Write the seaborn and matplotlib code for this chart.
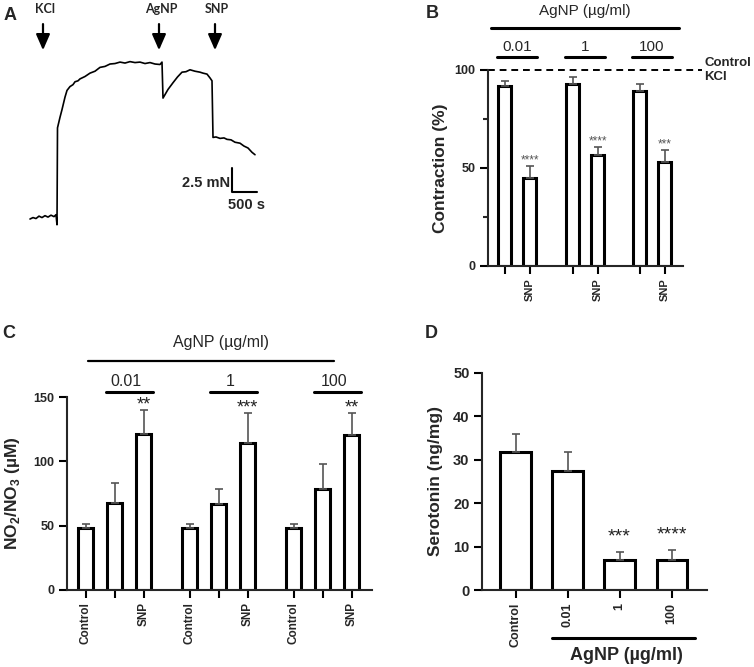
import numpy as np
import pandas as pd
import matplotlib
matplotlib.use('Agg')
import matplotlib.pyplot as plt
import seaborn as sns

sns.set_theme(style='ticks')
plt.rcParams['font.family'] = ['Liberation Sans', 'DejaVu Sans']
plt.rcParams['axes.linewidth'] = 1.5
plt.rcParams['mathtext.fontset'] = 'custom'
plt.rcParams['mathtext.rm'] = 'Liberation Sans'
plt.rcParams['mathtext.bf'] = 'Liberation Sans:bold'

# ---- Panel A: force trace (time s, force mN)
trace_t = [0, 60, 120, 180, 240, 300, 360, 420, 480, 520, 540, 550, 600, 640, 700, 740, 800,
           860, 900, 960, 1000, 1100, 1200, 1300, 1400, 1500, 1600, 1700, 1800, 1900, 2000,
           2100, 2200, 2300, 2400, 2500, 2600, 2640, 2660, 2760, 2860, 2950, 3040, 3120,
           3200, 3300, 3400, 3460, 3540, 3600, 3640, 3660, 3720, 3800, 3880, 3940, 4020,
           4100, 4200, 4280, 4360, 4440, 4500]
trace_f = [0.1, 0.25, 0.15, 0.4, 0.25, 0.45, 0.3, 0.5, 0.35, 0.55, -0.5, 9.6, 10.7, 11.5,
           12.8, 13.5, 13.9, 14.1, 14.4, 14.5, 14.7, 14.95, 15.3, 15.5, 15.9, 16.0, 16.25,
           16.3, 16.45, 16.35, 16.5, 16.4, 16.45, 16.3, 16.4, 16.25, 16.2, 16.45, 12.7,
           13.6, 14.3, 14.9, 15.4, 15.45, 15.65, 15.5, 15.4, 15.3, 15.2, 14.8, 14.5, 8.6,
           8.65, 8.5, 8.55, 8.4, 8.35, 8.1, 8.0, 7.7, 7.5, 7.05, 6.8]
events = ['KCl', 'AgNP', 'SNP']
event_t = [260, 2580, 3700]

# ---- Panel B: contraction (%)
b_pos = [0, 1, 2.72, 3.72, 5.4, 6.4]
b_mean = [91.8, 45.0, 93.0, 56.5, 89.3, 53.0]
b_sem = [2.4, 6.2, 3.3, 4.2, 3.4, 6.4]
b_ticklabels = ['', 'SNP', '', 'SNP', '', 'SNP']
b_stars = ['', '****', '', '****', '', '***']
b_groups = ['0.01', '1', '100']

# ---- Panel C: NO2/NO3 (uM)
c_pos = [0, 1, 2, 3.6, 4.6, 5.6, 7.2, 8.2, 9.2]
c_mean = [48.4, 67.8, 121.5, 48.4, 67.2, 114.6, 48.4, 78.6, 120.2]
c_sem = [2.8, 15.0, 18.1, 2.8, 11.2, 23.2, 2.8, 19.1, 17.4]
c_ticklabels = ['Control', '', 'SNP'] * 3
c_stars = ['', '', '**', '', '', '***', '', '', '**']
c_groups = ['0.01', '1', '100']

# ---- Panel D: serotonin (ng/mg)
d_pos = [0, 1, 2, 3]
d_labels = ['Control', '0.01', '1', '100']
d_mean = [31.8, 27.5, 6.9, 6.8]
d_sem = [4.2, 4.3, 1.8, 2.4]
d_stars = ['', '', '***', '****']

W, H = 754, 667
fig = plt.figure(figsize=(W / 100, H / 100), dpi=100)


def px_axes(l, t, r, b):
    return fig.add_axes([l / W, 1 - b / H, (r - l) / W, (b - t) / H])


def bars(ax, pos, mean, sem, width):
    df = pd.DataFrame({'x': pos, 'y': mean})
    sns.barplot(data=df, x='x', y='y', native_scale=True, width=width, color='white',
                saturation=1, edgecolor='black', linewidth=2.2, errorbar=None, ax=ax)
    ax.errorbar(pos, mean, yerr=[np.zeros(len(mean)), sem], fmt='none', ecolor='#555555',
                elinewidth=1.2, capsize=3, capthick=1.2, zorder=3)
    sns.despine(ax=ax)
    ax.set_xlabel('')
    ax.tick_params(axis='both', width=1.5, length=5.5, color='black')


def bold_yticks(ax, size):
    for lab in ax.get_yticklabels():
        lab.set_fontweight('bold')
        lab.set_fontsize(size)


# ================= A
axA = px_axes(0, 0, 330, 260)
axA.axis('off')
axA.set_xlim(-600, 6000)
axA.set_ylim(-4.17, 22.92)
axA.plot(trace_t, trace_f, color='black', lw=1.2)
for name, t in zip(events, event_t):
    axA.annotate('', xy=(t, 17.4), xytext=(t, 20.7),
                 arrowprops=dict(arrowstyle='-|>,head_width=0.35,head_length=0.8',
                                 color='black', lw=1.6, mutation_scale=12))
    axA.text(t + 40, 22.0, name, ha='center', va='center', fontsize=9,
             family=['Lato', 'DejaVu Sans'], fontweight='bold')
sb_t, sb_f = 4040, 2.9
axA.plot([sb_t, sb_t, sb_t + 500], [sb_f + 2.5, sb_f, sb_f], color='black', lw=1.5)
axA.text(sb_t - 40, sb_f + 1.0, '2.5 mN', ha='right', va='center', fontsize=10.5, fontweight='bold')
axA.text(sb_t + 300, sb_f - 1.35, '500 s', ha='center', va='center', fontsize=10.5, fontweight='bold')

# ================= B
axB = px_axes(488, 70, 683, 266)
bars(axB, b_pos, b_mean, b_sem, 0.5)
axB.set_xlim(-0.66, 7.14)
axB.set_ylim(0, 100)
axB.set_yticks([0, 50, 100])
axB.set_yticks([25, 75], minor=True)
axB.tick_params(axis='y', which='minor', width=1.5, length=3.5)
axB.set_xticks(b_pos)
axB.set_xticklabels(b_ticklabels, rotation=90, fontsize=8, fontweight='bold')
bold_yticks(axB, 9)
axB.set_ylabel('Contraction (%)', fontsize=12.5, fontweight='bold')
axB.yaxis.set_label_coords(-0.205, 0.5)
for x, m, s, st in zip(b_pos, b_mean, b_sem, b_stars):
    if st:
        axB.text(x, m + s + 1.2, st, ha='center', va='baseline', fontsize=8.5, color='#555555')
axB.plot([0, 1.097], [100, 100], transform=axB.get_yaxis_transform(), color='black',
         lw=1.4, ls=(0, (3.5, 2.5)), clip_on=False)
axB.text(1.11, 100, 'Control\nKCl', transform=axB.get_yaxis_transform(), ha='left',
         va='center', fontsize=9.5, fontweight='bold', linespacing=1.25)
trB = axB.get_xaxis_transform()
for i, g in enumerate(b_groups):
    x0, x1 = b_pos[2 * i] - 0.3, b_pos[2 * i + 1] + 0.3
    axB.plot([x0, x1], [1.066, 1.066], transform=trB, color='black', lw=2.2, clip_on=False)
    axB.text((x0 + x1) / 2, 1.08, g, transform=trB, ha='center', va='bottom', fontsize=11)
axB.plot([-0.54, 6.98], [1.212, 1.212], transform=trB, color='black', lw=2.2, clip_on=False)
axB.text(3.2, 1.30, 'AgNP (µg/ml)', transform=trB, ha='center', va='center', fontsize=11)

# ================= C
axC = px_axes(67, 397, 372, 590)
bars(axC, c_pos, c_mean, c_sem, 0.52)
axC.set_xlim(-0.655, 9.9)
axC.set_ylim(0, 150)
axC.set_yticks([0, 50, 100, 150])
axC.set_xticks(c_pos)
axC.set_xticklabels(c_ticklabels, rotation=90, fontsize=8.5, fontweight='bold')
bold_yticks(axC, 9)
axC.set_ylabel(r'NO$_\mathbf{2}$/NO$_\mathbf{3}$ (µM)', fontsize=12.5, fontweight='bold')
axC.yaxis.set_label_coords(-0.148, 0.5)
for x, m, s, st in zip(c_pos, c_mean, c_sem, c_stars):
    if st:
        axC.text(x, m + s + 0.5, st, ha='center', va='baseline', fontsize=13, color='#222222')
trC = axC.get_xaxis_transform()
for i, g in enumerate(c_groups):
    x0, x1 = c_pos[3 * i + 1] - 0.31, c_pos[3 * i + 2] + 0.31
    axC.plot([x0, x1], [1.026, 1.026], transform=trC, color='black', lw=2.2, clip_on=False)
    axC.text((x0 + x1) / 2 - 0.1, 1.04, g, transform=trC, ha='center', va='bottom', fontsize=11.5)
axC.plot([0.07, 8.59], [1.187, 1.187], transform=trC, color='black', lw=1.6, clip_on=False)
axC.text(4.69, 1.28, 'AgNP (µg/ml)', transform=trC, ha='center', va='center', fontsize=11.5)

# ================= D
axD = px_axes(482, 373, 707, 590)
bars(axD, d_pos, d_mean, d_sem, 0.58)
axD.set_xlim(-0.644, 3.68)
axD.set_ylim(0, 50)
axD.set_yticks([0, 10, 20, 30, 40, 50])
axD.set_xticks(d_pos)
axD.set_xticklabels(d_labels, rotation=90, fontsize=9, fontweight='bold')
bold_yticks(axD, 10.5)
axD.set_ylabel('Serotonin (ng/mg)', fontsize=12.5, fontweight='bold')
axD.yaxis.set_label_coords(-0.173, 0.5)
for x, m, s, st in zip(d_pos, d_mean, d_sem, d_stars):
    if st:
        axD.text(x, m + s + 2.5, st, ha='center', va='baseline', fontsize=14, color='#222222')
trD = axD.get_xaxis_transform()
axD.plot([0.70, 3.45], [-0.221, -0.221], transform=trD, color='black', lw=2.2, clip_on=False)
axD.text(2.13, -0.30, 'AgNP (µg/ml)', transform=trD, ha='center', va='center',
         fontsize=13, fontweight='bold')

# panel letters
for letter, (x, y) in zip('ABCD', [(10, 15), (432, 14), (9, 333), (431, 333)]):
    fig.text(x / W, 1 - y / H, letter, ha='center', va='center', fontsize=13, fontweight='bold')

fig.savefig('out.png', dpi=100)
